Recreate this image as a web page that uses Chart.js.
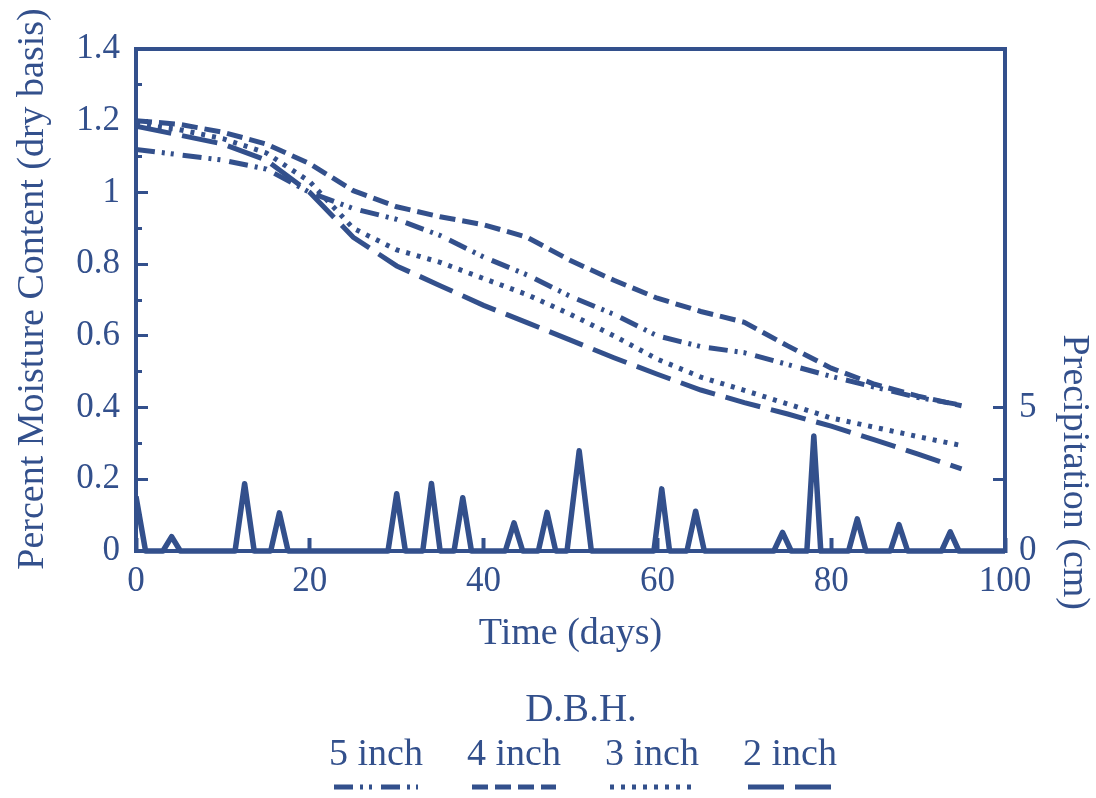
<!DOCTYPE html>
<html>
<head>
<meta charset="utf-8">
<script src="https://cdn.jsdelivr.net/npm/chart.js@4/dist/chart.umd.min.js"></script>
<style>
  html, body { margin: 0; padding: 0; background: #ffffff; }
  #wrap { position: relative; width: 1096px; height: 798px; overflow: hidden; }
  #chart { position: absolute; left: 0; top: 0; }
  .serif { font-family: 'Liberation Serif', 'Times New Roman', serif; color: #33508c; }
  #legendTitle { position: absolute; left: 481px; top: 688px; width: 200px; text-align: center; font-size: 39px; line-height: 39px; }
  #legendItems { position: absolute; left: 307px; top: 733px; display: flex; }
  .lg-item { width: 138px; display: flex; flex-direction: column; align-items: center; }
  .lg-text { font-size: 38px; line-height: 38px; height: 49px; white-space: nowrap; }
  .lg-line { display: block; }
</style>
</head>
<body>
<div id="wrap">
  <canvas id="chart" width="1096" height="798"></canvas>
  <div id="legendTitle" class="serif">D.B.H.</div>
  <div id="legendItems" class="serif"></div>
</div>
<script>
// ---------------- data ----------------
const days = [0, 5, 10, 15, 20, 25, 30, 35, 40, 45, 50, 55, 60, 65, 70, 75, 80, 85, 90, 95];

const moisture5in = [1.12, 1.105, 1.09, 1.065, 1.00, 0.955, 0.925, 0.88, 0.82, 0.77, 0.71, 0.66, 0.60, 0.57, 0.553, 0.52, 0.487, 0.457, 0.428, 0.407];
const moisture4in = [1.20, 1.19, 1.168, 1.135, 1.08, 1.005, 0.96, 0.932, 0.91, 0.875, 0.81, 0.755, 0.705, 0.668, 0.638, 0.572, 0.51, 0.465, 0.432, 0.405];
const moisture3in = [1.19, 1.175, 1.15, 1.11, 1.03, 0.90, 0.84, 0.805, 0.76, 0.715, 0.66, 0.60, 0.535, 0.485, 0.448, 0.41, 0.371, 0.345, 0.319, 0.294];
const moisture2in = [1.185, 1.16, 1.135, 1.09, 1.00, 0.875, 0.795, 0.74, 0.685, 0.637, 0.588, 0.539, 0.493, 0.449, 0.414, 0.382, 0.348, 0.31, 0.27, 0.229];

const precipDay = [0, 1.1, 3.1, 4.1, 5.1, 11.4, 12.5, 13.6, 15.5, 16.5, 17.5, 29, 30, 31, 33, 34, 35, 36.6, 37.6, 38.6,
                   42.5, 43.5, 44.5, 46.3, 47.3, 48.3, 49.6, 51, 52.4, 59.6, 60.5, 61.4, 63.4, 64.4, 65.4, 73.4, 74.4, 75.4,
                   77.2, 78, 78.8, 82, 83, 84, 86.8, 87.8, 88.8, 92.7, 93.7, 94.7, 100];
const precipCm  = [1.9, 0, 0, 0.5, 0, 0, 2.35, 0, 0, 1.33, 0, 0, 2.0, 0, 0, 2.36, 0, 0, 1.86, 0,
                   0, 0.98, 0, 0, 1.35, 0, 0, 3.5, 0, 0, 2.17, 0, 0, 1.39, 0, 0, 0.65, 0,
                   0, 4.02, 0, 0, 1.12, 0, 0, 0.92, 0, 0, 0.67, 0, 0];

const seriesLabels = ['5 inch', '4 inch', '3 inch', '2 inch'];
const moistureTicks = [0, 0.2, 0.4, 0.6, 0.8, 1, 1.2, 1.4];
const moistureTickLabels = ['0', '0.2', '0.4', '0.6', '0.8', '1', '1.2', '1.4'];
const timeTicks = [0, 20, 40, 60, 80, 100];
const timeTickLabels = ['0', '20', '40', '60', '80', '100'];
const precipTicks = [0, 2.5, 5];
const precipTickLabels = ['0', '', '5'];

// ---------------- styling ----------------
const INK = '#33508c';
const SERIF = "'Liberation Serif', 'Times New Roman', serif";
const LW = 5;

function pairs(xs, ys) { return xs.map((x, i) => ({ x: x, y: ys[i] })); }

function moistureDataset(label, values, dash) {
  return {
    label: label, data: pairs(days, values), xAxisID: 'x', yAxisID: 'y',
    borderColor: INK, backgroundColor: INK, borderWidth: LW, borderDash: dash,
    borderCapStyle: 'butt', pointRadius: 0, fill: false, tension: 0, showInLegend: true
  };
}

const datasets = [
  moistureDataset(seriesLabels[0], moisture5in, [19, 7, 3, 6, 3, 9]),
  moistureDataset(seriesLabels[1], moisture4in, [16, 7]),
  moistureDataset(seriesLabels[2], moisture3in, [4, 7]),
  moistureDataset(seriesLabels[3], moisture2in, [36, 11]),
  {
    label: 'Precipitation', data: pairs(precipDay, precipCm), xAxisID: 'x', yAxisID: 'yP',
    borderColor: INK, backgroundColor: INK, borderWidth: 5.5, borderJoinStyle: 'round',
    pointRadius: 0, fill: false, tension: 0, showInLegend: false
  }
];

const tickFont = { family: SERIF, size: 35 };
const titleFont = { family: SERIF, size: 38, lineHeight: 1 };

// Give the axis titles the extent they have in the original figure
const titleExtents = {
  id: 'titleExtents',
  afterLayout(chart) {
    const p = chart.scales.yP;
    if (p) { p.bottom = 610; }
    const y = chart.scales.y;
    if (y) { y.top = 12; y.bottom = 566; }
  }
};

const chart = new Chart(document.getElementById('chart'), {
  type: 'line',
  data: { datasets: datasets },
  options: {
    responsive: false,
    animation: false,
    layout: { padding: { top: 34, bottom: 137, left: 0, right: 0 } },
    plugins: { legend: { display: false }, tooltip: { enabled: false } },
    scales: {
      x: {
        type: 'linear', position: 'bottom', min: 0, max: 100,
        afterFit: (s) => { s.height = 110; },
        afterBuildTicks: (s) => { s.ticks = timeTicks.map(v => ({ value: v })); },
        ticks: { color: INK, font: tickFont, padding: 23, maxRotation: 0, callback: (v, i) => timeTickLabels[i] },
        grid: { drawOnChartArea: false, drawTicks: true, tickLength: -13, tickWidth: 4, tickColor: INK, color: INK },
        border: { display: true, color: INK, width: 4 },
        title: { display: true, text: 'Time (days)', color: INK, font: titleFont, padding: { top: 0, bottom: 8 } }
      },
      xTop: {
        type: 'linear', position: 'top', min: 0, max: 100,
        afterFit: (s) => { s.height = 0; },
        ticks: { display: false },
        grid: { drawOnChartArea: false, drawTicks: false },
        border: { display: true, color: INK, width: 4 }
      },
      y: {
        type: 'linear', position: 'left', weight: 1, min: 0, max: 1.4,
        afterFit: (s) => { s.width = 136; },
        afterBuildTicks: (s) => { s.ticks = moistureTicks.map(v => ({ value: v })); },
        ticks: { color: INK, font: tickFont, padding: 28, callback: (v, i) => moistureTickLabels[i] },
        grid: { drawOnChartArea: false, drawTicks: true, tickLength: -12, tickWidth: 3, tickColor: INK, color: INK },
        border: { display: false },
        title: { display: true, text: 'Percent Moisture Content (dry basis)', color: INK, font: titleFont, padding: { top: 14, bottom: 0 } }
      },
      yMinor: {
        type: 'linear', position: 'left', weight: 0, min: 0, max: 1.4,
        afterFit: (s) => { s.width = 0; },
        ticks: { display: false, stepSize: 0.1, maxTicksLimit: 30 },
        grid: { drawOnChartArea: false, drawTicks: true, tickLength: -6, tickWidth: 3, tickColor: INK, color: INK },
        border: { display: true, color: INK, width: 4 }
      },
      yFrame: {
        type: 'linear', position: 'right', weight: 0, min: 0, max: 1,
        afterFit: (s) => { s.width = 0; },
        ticks: { display: false },
        grid: { drawOnChartArea: false, drawTicks: false },
        border: { display: true, color: INK, width: 4 }
      },
      yP: {
        type: 'linear', position: 'right', weight: 1, min: 0, max: 17.53,
        afterFit: (s) => { s.width = 91; },
        afterBuildTicks: (s) => { s.ticks = precipTicks.map(v => ({ value: v })); },
        ticks: { color: INK, font: tickFont, padding: 26, callback: (v, i) => precipTickLabels[i] },
        grid: { drawOnChartArea: false, drawTicks: true, tickLength: -12, tickWidth: 3, tickColor: INK, color: INK },
        border: { display: false },
        title: { display: true, text: 'Precipitation (cm)', color: INK, font: titleFont, align: 'start', padding: { top: 3, bottom: 0 } }
      }
    }
  },
  plugins: [titleExtents]
});

// ---------------- HTML legend built from the chart's datasets ----------------
(function buildLegend() {
  const box = document.getElementById('legendItems');
  const NS = 'http://www.w3.org/2000/svg';
  chart.data.datasets.filter(d => d.showInLegend).forEach(d => {
    const item = document.createElement('div');
    item.className = 'lg-item';
    const t = document.createElement('div');
    t.className = 'lg-text';
    t.textContent = d.label;
    item.appendChild(t);
    const svg = document.createElementNS(NS, 'svg');
    svg.setAttribute('width', '86'); svg.setAttribute('height', '10');
    svg.setAttribute('class', 'lg-line');
    const ln = document.createElementNS(NS, 'line');
    ln.setAttribute('x1', '1'); ln.setAttribute('y1', '5');
    ln.setAttribute('x2', '85'); ln.setAttribute('y2', '5');
    ln.setAttribute('stroke', d.borderColor);
    ln.setAttribute('stroke-width', '5');
    ln.setAttribute('stroke-dasharray', d.borderDash.join(' '));
    svg.appendChild(ln);
    item.appendChild(svg);
    box.appendChild(item);
  });
})();
</script>
</body>
</html>
